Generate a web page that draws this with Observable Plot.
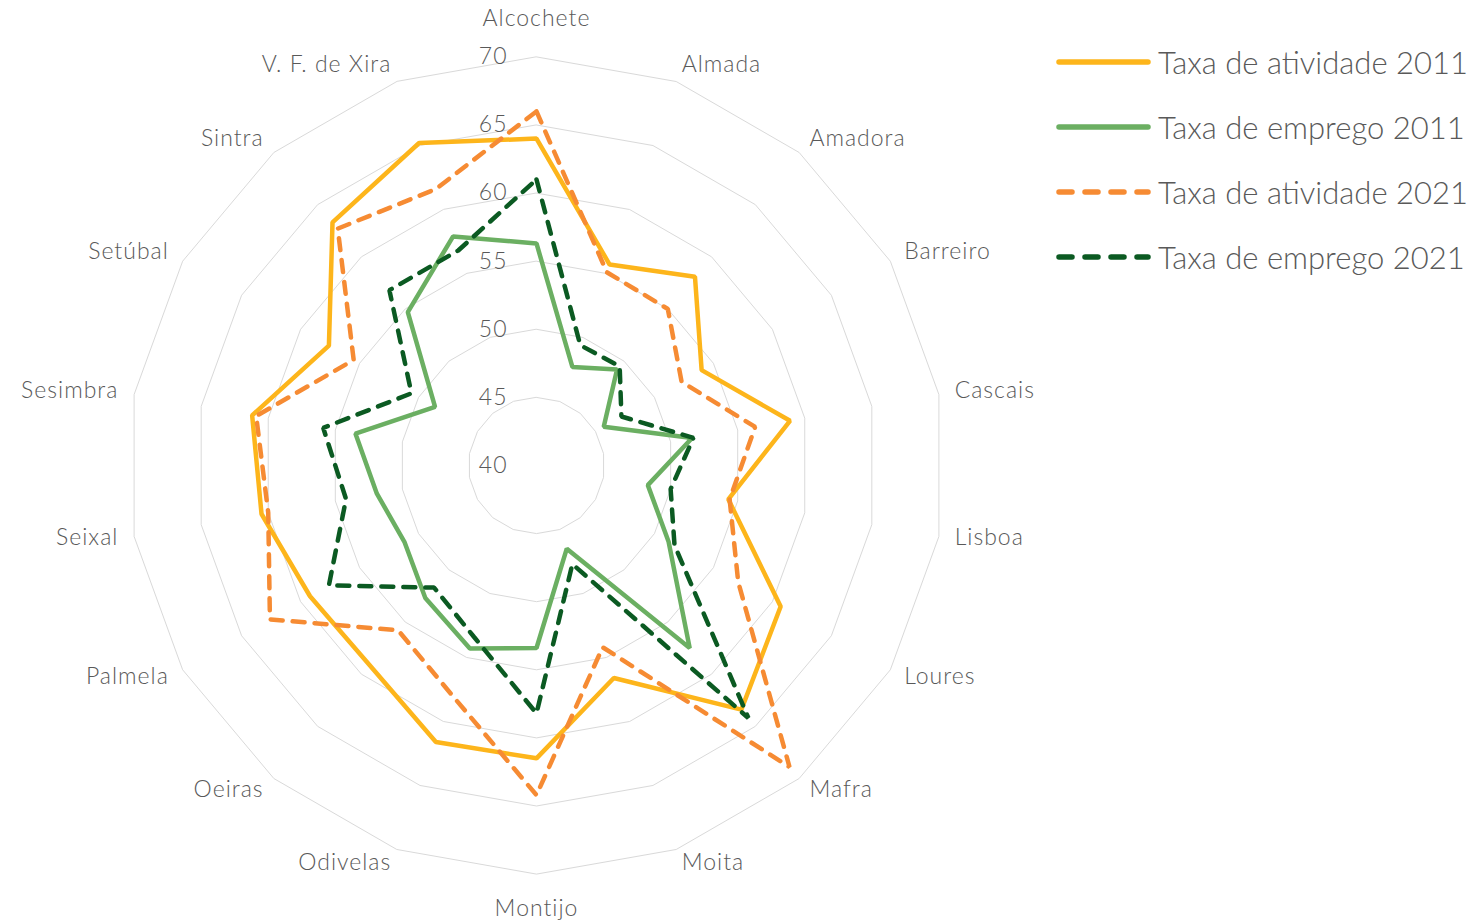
<!DOCTYPE html>
<html>
<head>
<meta charset="utf-8">
<script src="https://cdn.jsdelivr.net/npm/d3@7"></script>
<script src="https://cdn.jsdelivr.net/npm/@observablehq/plot@0.6"></script>
<style>
  html, body { margin: 0; padding: 0; background: #fff; }
  #wrap { position: relative; width: 1484px; height: 923px; overflow: hidden; }
  #chart svg text { letter-spacing: 1px; }
  #legend { position: absolute; left: 1056px; top: 29px; font-family: Lato, sans-serif; font-weight: 300; color: #595959; font-size: 31px; }
  .row { display: flex; align-items: center; height: 65px; }
  .row svg { margin-right: 6px; }
</style>
</head>
<body>
<div id="wrap"><div id="chart"></div><div id="legend"></div></div>
<script>
const categories = ["Alcochete","Almada","Amadora","Barreiro","Cascais","Lisboa","Loures","Mafra","Moita","Montijo","Odivelas","Oeiras","Palmela","Seixal","Sesimbra","Setúbal","Sintra","V. F. de Xira"];
const seriesNames = ["Taxa de atividade 2011","Taxa de emprego 2011","Taxa de atividade 2021","Taxa de emprego 2021"];
const ativ2011 = [64.0, 55.7, 58.1, 54.0, 58.9, 54.3, 60.7, 63.4, 56.6, 61.5, 61.6, 59.1, 59.2, 60.5, 61.2, 57.6, 63.3, 65.2];
const emp2011  = [56.3, 47.7, 49.2, 45.7, 51.6, 48.3, 51.2, 57.5, 46.5, 53.4, 54.3, 52.7, 51.2, 51.9, 53.5, 48.6, 54.7, 57.9];
const ativ2021 = [66.0, 55.1, 55.0, 52.3, 56.3, 54.4, 57.1, 68.9, 54.2, 64.2, 58.0, 55.8, 62.6, 60.0, 60.9, 55.5, 62.7, 61.6];
const emp2021  = [61.0, 49.4, 49.5, 47.2, 51.7, 50.0, 51.7, 64.2, 47.7, 58.2, 53.4, 51.7, 57.6, 54.2, 55.9, 50.6, 56.8, 56.8];
const ticks = [40, 45, 50, 55, 60, 65, 70];

const colors = ["#FDB51B", "#6BAF62", "#F68B33", "#0B5A22"];
const dashes = [null, null, "12 10", "12 10"];

const W = 1484, H = 923, cx = 536, cy = 465, k = 13.62;
const minV = 40, maxV = 70;
const n = categories.length;
const ang = i => i * 2 * Math.PI / n;
const px = (v, i) => (v - minV) * Math.sin(ang(i));
const py = (v, i) => (v - minV) * Math.cos(ang(i));

const allSeries = [ativ2011, emp2011, ativ2021, emp2021];
const seriesData = allSeries.map((vals, s) => vals.map((v, i) => ({series: seriesNames[s], cat: categories[i], value: v, x: px(v, i), y: py(v, i)})));

const gridData = ticks.filter(t => t > minV).flatMap(t => categories.map((c, i) => ({ring: t, x: px(t, i), y: py(t, i)})));

const off = 16 / k;
const labelData = categories.map((c, i) => {
  const a = ang(i), s = Math.sin(a), co = Math.cos(a);
  let x = px(maxV, i) + off * s;
  let y = py(maxV, i) + off * co + 1.5 / k;
  if (Math.abs(s) < 0.01) y += (co > 0 ? 21 : -20) / k;
  return {cat: c, x, y, s};
});
const tickData = ticks.map(t => ({t, x: 0, y: t - minV}));

const font = "Lato, sans-serif";
const txtColor = "#595959";

const marks = [
  Plot.line(gridData, {x: "x", y: "y", z: "ring", curve: "linear-closed", stroke: "#d9d9d9", strokeWidth: 1})
];
seriesData.forEach((d, s) => {
  marks.push(Plot.line(d, {x: "x", y: "y", curve: "linear-closed", stroke: colors[s], strokeWidth: 4.5,
    strokeDasharray: dashes[s] || undefined, strokeLinecap: "round", strokeLinejoin: "miter"}));
});
marks.push(
  Plot.text(tickData, {x: "x", y: "y", text: d => String(d.t), textAnchor: "end", dx: -29, fontSize: 23, fontFamily: font, fontWeight: 300, fill: txtColor}),
  Plot.text(labelData, {filter: d => d.s > 0.01, x: "x", y: "y", text: "cat", textAnchor: "start", fontSize: 23, fontFamily: font, fontWeight: 300, fill: txtColor}),
  Plot.text(labelData, {filter: d => d.s < -0.01, x: "x", y: "y", text: "cat", textAnchor: "end", fontSize: 23, fontFamily: font, fontWeight: 300, fill: txtColor}),
  Plot.text(labelData, {filter: d => Math.abs(d.s) <= 0.01, x: "x", y: "y", text: "cat", textAnchor: "middle", fontSize: 23, fontFamily: font, fontWeight: 300, fill: txtColor})
);

const chart = Plot.plot({
  width: W, height: H, margin: 0,
  x: {domain: [-cx / k, (W - cx) / k], axis: null},
  y: {domain: [-(H - cy) / k, cy / k], axis: null},
  style: {background: "transparent", fontFamily: font},
  marks
});
document.getElementById("chart").appendChild(chart);

const legend = document.getElementById("legend");
seriesNames.forEach((name, s) => {
  const row = document.createElement("div");
  row.className = "row";
  const dash = dashes[s] ? `stroke-dasharray="13 13"` : "";
  row.innerHTML = `<svg width="96" height="10"><line x1="3" y1="5" x2="92" y2="5" stroke="${colors[s]}" stroke-width="5.5" stroke-linecap="round" ${dash}/></svg><span>${name}</span>`;
  legend.appendChild(row);
});
</script>
</body>
</html>
